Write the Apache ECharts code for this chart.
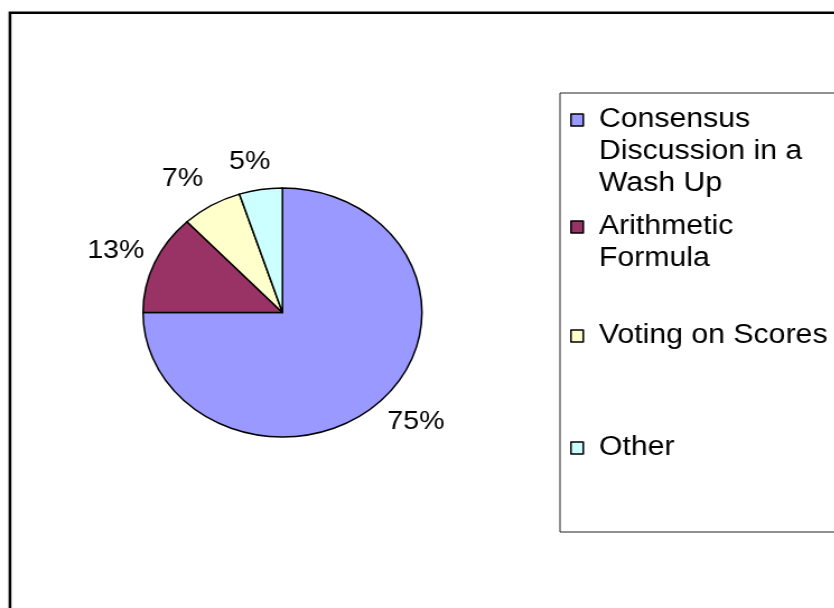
<!DOCTYPE html>
<html>
<head>
<meta charset="utf-8">
<script src="https://cdn.jsdelivr.net/npm/echarts@6/dist/echarts.min.js"></script>
<style>
  html, body { margin: 0; padding: 0; overflow: hidden; background: #fff; }
  /* the chart is drawn on a narrower canvas and widened, giving the flattened oval pie */
  #chart { width: 745px; height: 608px; transform: scaleX(1.12); transform-origin: 0 0; }
</style>
</head>
<body>
<div id="chart"></div>
<script>
// Method used to settle the final result
const categories = [
  'Consensus Discussion in a Wash Up',
  'Arithmetic Formula',
  'Voting on Scores',
  'Other'
];
const shares = [75, 13, 7, 5];
// legend wording, broken over lines as it is shown
const legendLines = [
  ['Consensus', 'Discussion in a', 'Wash Up'],
  ['Arithmetic', 'Formula'],
  ['Voting on Scores'],
  ['Other']
];
const sliceColors = ['#9999FF', '#993366', '#FFFFCC', '#CCFFFF'];

// label placement per slice: radial reach past the rim and pull-back toward the pie
const labelReach = [30.5, 30.5, 30.5, 27.5];
const labelPull = [-16, -19, -8, -13];

const FONT = '"Liberation Sans", Arial, sans-serif';
const legendTops = [40, 179, 320, 432];
const LINE_H = 32;

const pieData = categories.map((name, i) => ({
  name: name,
  value: shares[i],
  itemStyle: { color: sliceColors[i] },
  label: { distanceToLabelLine: labelPull[i] },
  labelLine: { length: labelReach[i] }
}));

// one legend block per entry; blank leading lines keep the swatch level with the first line
const legends = categories.map((name, i) => {
  const lines = legendLines[i];
  const pad = new Array(lines.length - 1).fill('');
  return {
    data: [name],
    orient: 'vertical',
    left: 509,
    top: legendTops[i],
    padding: 0,
    icon: 'rect',
    itemWidth: 11,
    itemHeight: 12,
    itemStyle: { borderColor: '#000', borderWidth: 1.5 },
    selectedMode: false,
    formatter: () => pad.concat(lines).join('\n'),
    textStyle: {
      color: '#000',
      fontFamily: FONT,
      fontSize: 27,
      lineHeight: LINE_H,
      padding: [0, 0, 0, 9]
    }
  };
});

const chart = echarts.init(document.getElementById('chart'));
chart.setOption({
  animation: false,
  backgroundColor: '#fff',
  graphic: [
    {
      type: 'rect',
      shape: { x: 8.9, y: 12.8, width: 1200, height: 1200 },
      style: { fill: 'none', stroke: '#000', lineWidth: 2.5 },
      silent: true
    },
    {
      type: 'rect',
      shape: { x: 500, y: 93, width: 400, height: 439 },
      style: { fill: 'none', stroke: '#222', lineWidth: 1 },
      silent: true
    }
  ],
  legend: legends,
  series: [{
    type: 'pie',
    center: [252.2, 312.5],
    radius: 124.5,
    startAngle: 90,
    clockwise: true,
    avoidLabelOverlap: false,
    itemStyle: { borderColor: '#000', borderWidth: 1.5 },
    label: {
      show: true,
      position: 'outside',
      formatter: '{c}%',
      color: '#000',
      fontFamily: FONT,
      fontSize: 25.5,
      padding: [4, 0, 0, 0]
    },
    labelLine: { show: false, length2: 0 },
    emphasis: { disabled: true },
    data: pieData
  }]
});
</script>
</body>
</html>
